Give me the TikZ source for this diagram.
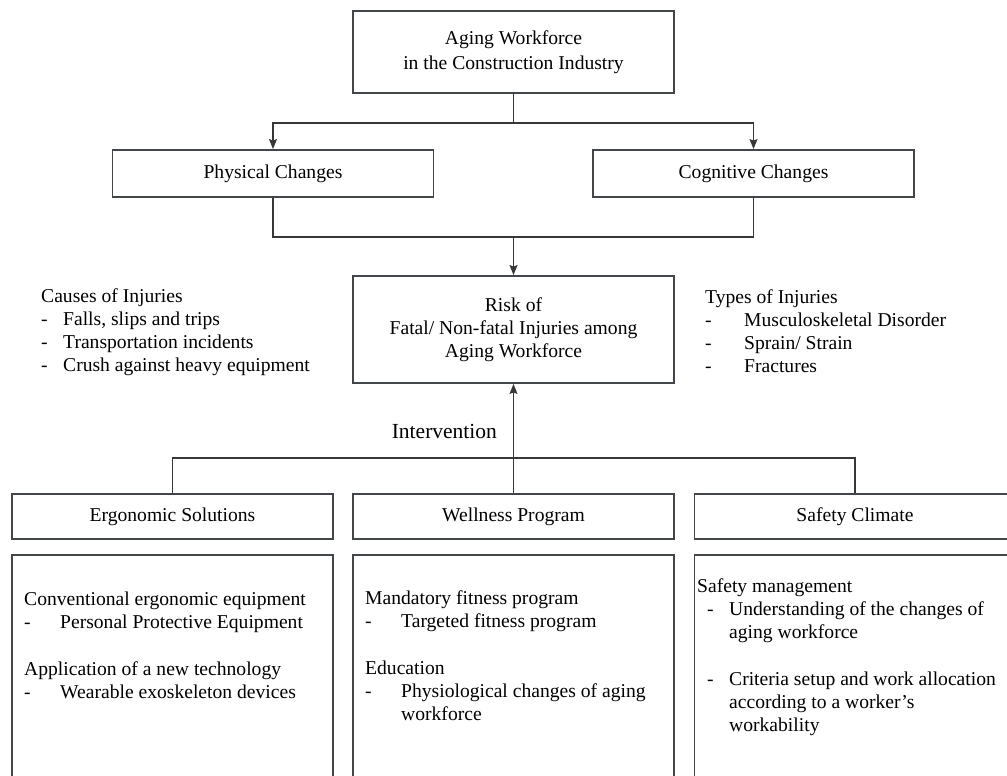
\documentclass[tikz,border=0pt]{standalone}
\usepackage{fontspec}
\setmainfont{Liberation Serif}
\usepackage{tikz}
\usetikzlibrary{arrows.meta,calc,positioning}
\definecolor{boxgray}{RGB}{66,70,74}
\definecolor{linegray}{RGB}{55,55,55}

\begin{document}
\begin{tikzpicture}[x=1pt,y=-1pt,
		box/.style={draw=boxgray, line width=1.9pt, minimum width=321pt, inner sep=0pt, align=center, font=\fontsize{19.6}{23}\selectfont},
		listtext/.style={inner sep=0pt, align=left, font=\fontsize{19.6}{23}\selectfont},
		link/.style={draw=linegray, line width=1.2pt},
		>={Stealth[length=10pt,width=8pt,inset=1.5pt]}
		]
	\useasboundingbox (0,0) rectangle (1007,776);

	% --- Haut : population et changements ---
	\node[box, minimum height=82pt, font=\fontsize{19.6}{25.5}\selectfont] (aging) at (513.5,52) {Aging Workforce\\in the Construction Industry};
	\node[box, minimum height=47pt] (phys) at (273,173.5) {Physical Changes};
	\node[box, minimum height=47pt] (cogn) at (753.5,173.5) {Cognitive Changes};
	\node[box, minimum height=107pt] (risk) at (513.5,329.5) {Risk of\\Fatal/ Non-fatal Injuries among\\Aging Workforce};

	\coordinate (split) at (513.5,123);
	\coordinate (merge) at (513.5,237);
	\draw[link] (aging) -- (split);
	\draw[link,->] (split) -| (phys);
	\draw[link,->] (split) -| (cogn);
	\draw[link] (phys) |- (merge);
	\draw[link] (cogn) |- (merge);
	\draw[link,->] (merge) -- (risk);

	% Listes des blessures
	\node[listtext, anchor=north west] (causes) at (41,288.5) {Causes of Injuries\\
		\makebox[22pt][l]{-}Falls, slips and trips\\
		\makebox[22pt][l]{-}Transportation incidents\\
		\makebox[22pt][l]{-}Crush against heavy equipment};
	\node[listtext, anchor=north west] (types) at (705,289) {Types of Injuries\\
		\makebox[39pt][l]{-}Musculoskeletal Disorder\\
		\makebox[39pt][l]{-}Sprain/ Strain\\
		\makebox[39pt][l]{-}Fractures};

	% --- Bas : interventions ---
	\coordinate (ihub) at (513.5,458);
	\draw[link,->] (ihub) -- node[pos=0.36, left=16pt, inner sep=0pt, font=\fontsize{21.5}{25}\selectfont] (interv) {Intervention} (risk);

	\node[box, minimum height=45pt] (ergo) at (172.5,516.5) {Ergonomic Solutions};
	\node[box, minimum height=45pt] (well) at (513.5,516.5) {Wellness Program};
	\node[box, minimum height=45pt] (safe) at (855,516.5) {Safety Climate};

	\draw[link] (ihub) -| (ergo);
	\draw[link] (ihub) -| (safe);
	\draw[link] (ihub) -- (well);

	\node[box, minimum height=245pt] (ergobody) at (172.5,677.5) {};
	\node[box, minimum height=245pt] (wellbody) at (513.5,677.5) {};
	\node[box, minimum height=245pt] (safebody) at (855,677.5) {};

	\node[listtext, anchor=north west] (ergotext) at (24,591.5) {Conventional ergonomic equipment\\
		\makebox[36pt][l]{-}Personal Protective Equipment\\[24pt]
		Application of a new technology\\
		\makebox[36pt][l]{-}Wearable exoskeleton devices};
	\node[listtext, anchor=north west] (welltext) at (365,590.5) {Mandatory fitness program\\
		\makebox[36pt][l]{-}Targeted fitness program\\[24pt]
		Education\\
		\makebox[36pt][l]{-}Physiological changes of aging\\
		\hspace*{36pt}workforce};
	\node[listtext, anchor=north west] (safetext) at (697,578.5) {Safety management\\
		\hspace*{10pt}\makebox[22pt][l]{-}Understanding of the changes of\\
		\hspace*{32pt}aging workforce\\[24pt]
		\hspace*{10pt}\makebox[22pt][l]{-}Criteria setup and work allocation\\
		\hspace*{32pt}according to a worker's\\
		\hspace*{32pt}workability};

\end{tikzpicture}
\end{document}
